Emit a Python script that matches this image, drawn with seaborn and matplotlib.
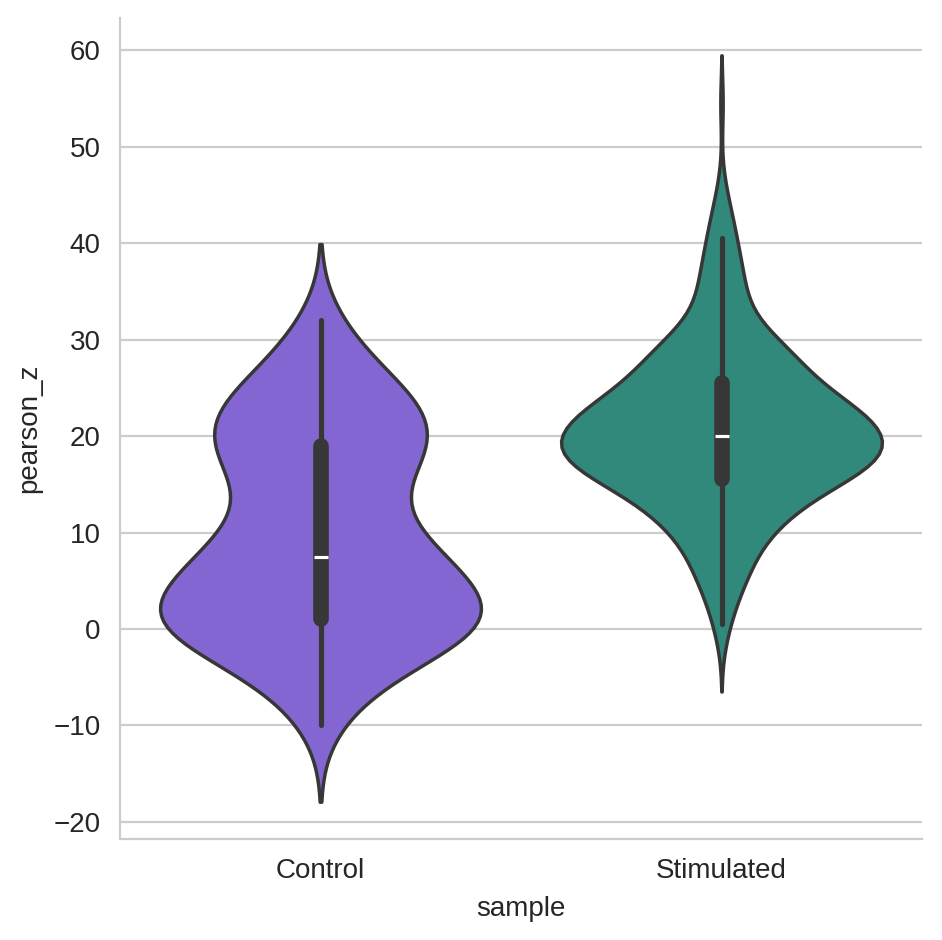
import numpy as np
import pandas as pd
import seaborn as sns
import matplotlib.pyplot as plt

# Observed pearson_z values (binned) and how many samples fall on each value
categories = ["Control", "Stimulated"]

control_values = [-10, -9, -8, -7, -6, -5, -4, -3, -2, -1, 0, 1, 2, 3, 4, 5, 6, 7, 8, 9, 10,
                  11, 12, 13, 14, 15, 16, 17, 18, 19, 20, 21, 22, 23, 24, 25, 26, 27, 28, 29,
                  30, 31, 32]
control_counts = [1, 1, 3, 3, 3, 2, 3, 4, 8, 12, 14, 13, 11, 9, 8, 7, 8, 8, 8, 7, 5,
                  4, 3, 3, 3, 4, 5, 6, 7, 7, 7, 7, 7, 7, 6, 5, 4, 3, 2, 2,
                  2, 2, 2]

stimulated_values = [-1.5, 0.5, 1.5, 2.5, 3.5, 4.5, 5.5, 6.5, 7.5, 8.5, 9.5, 10.5, 11.5,
                     12.5, 13.5, 14.5, 15.5, 16.5, 17.5, 18.5, 19.5, 20.5, 21.5, 22.5,
                     23.5, 24.5, 25.5, 26.5, 27.5, 28.5, 29.5, 30.5, 31.5, 32.5, 33.5,
                     34.5, 35.5, 36.5, 37.5, 38.5, 39.5, 40.5, 41.5, 42.5, 43.5, 44.5,
                     45.5, 46.5, 54.5]
stimulated_counts = [2, 4, 3, 3, 5, 6, 8, 9, 9, 10, 11, 16, 19,
                     20, 23, 27, 36, 44, 48, 49, 48, 45, 44, 42,
                     36, 29, 24, 23, 23, 22, 19, 14, 9, 7, 7,
                     7, 7, 6, 6, 5, 5, 4, 4, 3, 3, 2,
                     1, 1, 2]

colors = ["#8466D2", "#30897B"]

df = pd.DataFrame({
    "sample": [categories[0]] * sum(control_counts) + [categories[1]] * sum(stimulated_counts),
    "pearson_z": np.concatenate([np.repeat(control_values, control_counts),
                                 np.repeat(stimulated_values, stimulated_counts)]).astype(float),
})

sns.set_style("whitegrid")
plt.rcParams['font.family'] = ['Liberation Sans', 'DejaVu Sans']

dpi = 200
W, H = 942, 940
fig = plt.figure(figsize=(W / dpi, H / dpi), dpi=dpi)
ax = fig.add_axes([120 / W, 1 - 839 / H, 802 / W, 821 / H])
sns.violinplot(data=df, x="sample", y="pearson_z", hue="sample", order=categories,
               hue_order=categories, palette=colors, saturation=1,
               density_norm="width", bw_adjust=1.13, ax=ax, legend=False)
sns.despine(ax=ax)
fig.savefig("out.png", dpi=dpi)
